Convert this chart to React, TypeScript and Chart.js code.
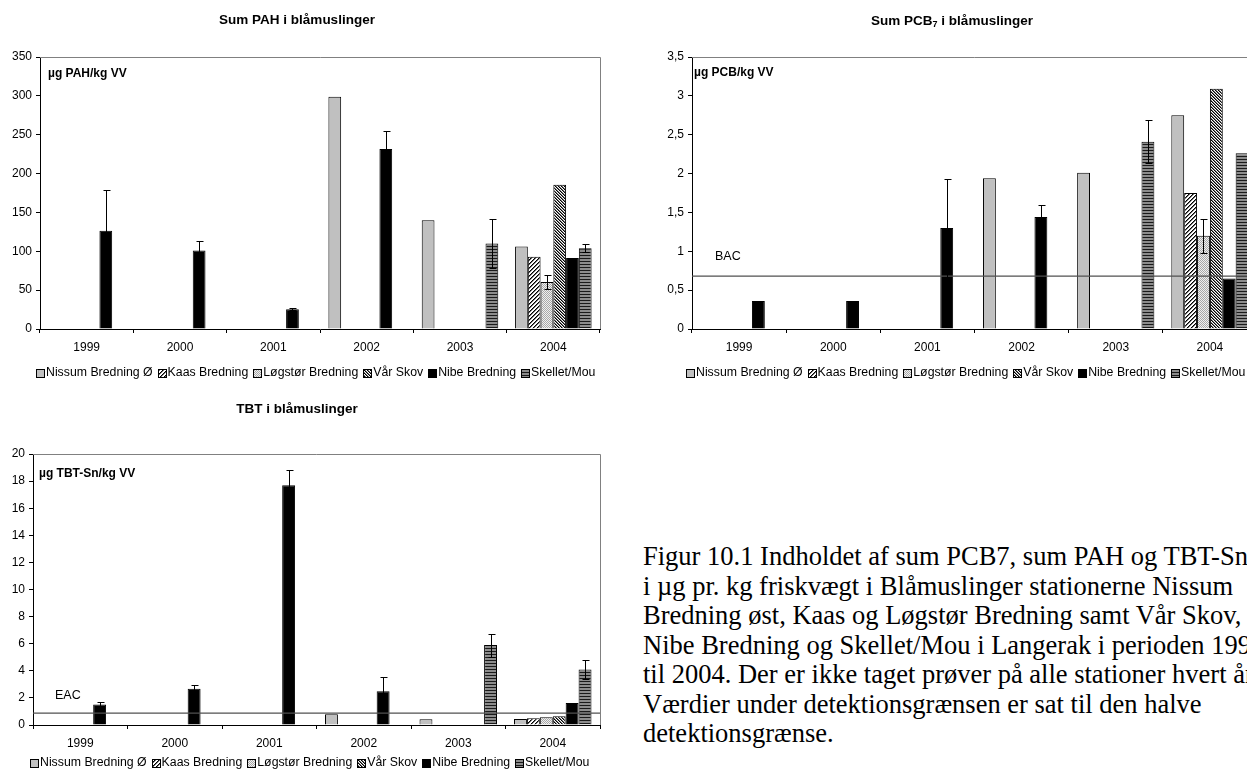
import React, { useEffect, useRef } from "react";
import { Chart, registerables } from "chart.js";

Chart.register(...registerables);

const FONT = "'Liberation Sans', Arial, sans-serif";

const years = ["1999", "2000", "2001", "2002", "2003", "2004"];
const stations = ["Nissum Bredning Ø", "Kaas Bredning", "Løgstør Bredning", "Vår Skov", "Nibe Bredning", "Skellet/Mou"];

// Sum PAH i blåmuslinger (µg PAH/kg VV)
const pahNissum = [null, null, null, 299, 140, 106];
const pahKaas = [null, null, null, null, null, 93];
const pahLogstor = [null, null, null, null, null, 60.5];
const pahVarSkov = [null, null, null, null, null, 185.5];
const pahNibe = [126.5, 101, 25.5, 231.5, null, 91.5];
const pahSkellet = [null, null, null, null, 110, 104];
const pahErrLogstor = [null, null, null, null, null, 8.5];
const pahErrNibe = [53, 12, 1.5, 23.5, null, null];
const pahErrSkellet = [null, null, null, null, 31.5, 5];
const pahYMax = 350;
const pahYStep = 50;

// Sum PCB7 i blåmuslinger (µg PCB/kg VV)
const pcbNissum = [null, null, null, 1.94, 2.01, 2.75];
const pcbKaas = [null, null, null, null, null, 1.75];
const pcbLogstor = [null, null, null, null, null, 1.2];
const pcbVarSkov = [null, null, null, null, null, 3.09];
const pcbNibe = [0.36, 0.36, 1.3, 1.44, null, 0.65];
const pcbSkellet = [null, null, null, null, 2.41, 2.26];
const pcbErrLogstor = [null, null, null, null, null, 0.22];
const pcbErrNibe = [null, null, 0.63, 0.16, null, null];
const pcbErrSkellet = [null, null, null, null, 0.28, null];
const pcbBAC = 0.68;
const pcbYMax = 3.5;
const pcbYStep = 0.5;

// TBT i blåmuslinger (µg TBT-Sn/kg VV)
const tbtNissum = [null, null, null, 0.8, 0.43, 0.45];
const tbtKaas = [null, null, null, null, null, 0.5];
const tbtLogstor = [null, null, null, null, null, 0.58];
const tbtVarSkov = [null, null, null, null, null, 0.65];
const tbtNibe = [1.52, 2.67, 17.7, 2.49, null, 1.62];
const tbtSkellet = [null, null, null, null, 5.9, 4.1];
const tbtErrNibe = [0.17, 0.27, 1.15, 1.03, null, null];
const tbtErrSkellet = [null, null, null, null, 0.85, 0.7];
const tbtEAC = 0.87;
const tbtYMax = 20;
const tbtYStep = 2;

const captionLines = [
  "Figur 10.1 Indholdet af sum PCB7, sum PAH og TBT-Sn",
  "i µg pr. kg friskvægt i Blåmuslinger stationerne Nissum",
  "Bredning øst, Kaas og Løgstør Bredning samt Vår Skov,",
  "Nibe Bredning og Skellet/Mou i Langerak i perioden 1999",
  "til 2004. Der er ikke taget prøver på alle stationer hvert år.",
  "Værdier under detektionsgrænsen er sat til den halve",
  "detektionsgrænse.",
];

type Num = number | null;
type Spec = {
  id: string;
  left: number;
  top: number;
  width: number;
  height: number;
  area: { left: number; right: number; top: number; bottom: number };
  series: Num[][];
  errors: (Num[] | null)[];
  yMax: number;
  yStep: number;
  comma: boolean;
  title: [string, string, string];
  titleX: number;
  titleY: number;
  unit: string;
  unitX: number;
  unitY: number;
  ref?: { value: number; label: string; x: number; y: number };
  legendCx: number;
  legendY: number;
};

const specs: Spec[] = [
  {
    id: "pah",
    left: 0,
    top: 0,
    width: 630,
    height: 395,
    area: { left: 40, right: 600, top: 57, bottom: 329 },
    series: [pahNissum, pahKaas, pahLogstor, pahVarSkov, pahNibe, pahSkellet],
    errors: [null, null, pahErrLogstor, null, pahErrNibe, pahErrSkellet],
    yMax: pahYMax,
    yStep: pahYStep,
    comma: false,
    title: ["Sum PAH i blåmuslinger", "", ""],
    titleX: 297,
    titleY: 20,
    unit: "µg PAH/kg VV",
    unitX: 48,
    unitY: 74,
    legendCx: 316,
    legendY: 373,
  },
  {
    id: "pcb",
    left: 630,
    top: 0,
    width: 640,
    height: 395,
    area: { left: 62, right: 627, top: 57, bottom: 329 },
    series: [pcbNissum, pcbKaas, pcbLogstor, pcbVarSkov, pcbNibe, pcbSkellet],
    errors: [null, null, pcbErrLogstor, null, pcbErrNibe, pcbErrSkellet],
    yMax: pcbYMax,
    yStep: pcbYStep,
    comma: true,
    title: ["Sum PCB", "7", " i blåmuslinger"],
    titleX: 322,
    titleY: 21,
    unit: "µg PCB/kg VV",
    unitX: 64,
    unitY: 73,
    ref: { value: pcbBAC, label: "BAC", x: 85, y: 257 },
    legendCx: 336,
    legendY: 373,
  },
  {
    id: "tbt",
    left: 0,
    top: 390,
    width: 630,
    height: 379,
    area: { left: 33, right: 600, top: 64, bottom: 335 },
    series: [tbtNissum, tbtKaas, tbtLogstor, tbtVarSkov, tbtNibe, tbtSkellet],
    errors: [null, null, null, null, tbtErrNibe, tbtErrSkellet],
    yMax: tbtYMax,
    yStep: tbtYStep,
    comma: false,
    title: ["TBT i blåmuslinger", "", ""],
    titleX: 297,
    titleY: 19,
    unit: "µg TBT-Sn/kg VV",
    unitX: 39,
    unitY: 84,
    ref: { value: tbtEAC, label: "EAC", x: 55, y: 306 },
    legendCx: 310,
    legendY: 373,
  },
];

function makeTile(w: number, h: number, fn: (x: number, y: number) => string) {
  const c = document.createElement("canvas");
  c.width = w;
  c.height = h;
  const g = c.getContext("2d")!;
  for (let y = 0; y < h; y++) {
    for (let x = 0; x < w; x++) {
      g.fillStyle = fn(x, y);
      g.fillRect(x, y, 1, 1);
    }
  }
  return c;
}

function makeFills(ctx: CanvasRenderingContext2D): (string | CanvasPattern)[] {
  const kaas = ctx.createPattern(
    makeTile(4, 4, (x, y) => {
      const k = (x + y) % 4;
      return k === 0 ? "#000" : k === 1 ? "#6e6e6e" : "#fff";
    }),
    "repeat"
  )!;
  const logstor = ctx.createPattern(
    makeTile(2, 2, (x, y) => ((x + y) % 2 === 0 ? "#a8a8a8" : "#efefef")),
    "repeat"
  )!;
  const varskov = ctx.createPattern(
    makeTile(3, 3, (x, y) => {
      const k = (((x - y) % 3) + 3) % 3;
      return k === 0 ? "#000" : k === 1 ? "#7a7a7a" : "#fff";
    }),
    "repeat"
  )!;
  const skellet = ctx.createPattern(
    makeTile(1, 3, (_x, y) => (y === 0 ? "#1a1a1a" : "#8c8c8c")),
    "repeat"
  )!;
  return ["#c0c0c0", kaas, logstor, varskov, "#000000", skellet];
}

function ChartCanvas({ spec }: { spec: Spec }) {
  const ref = useRef<HTMLCanvasElement | null>(null);

  useEffect(() => {
    const canvas = ref.current!;
    const ctx = canvas.getContext("2d")!;
    const fills = makeFills(ctx);
    const a = spec.area;
    const xAxisH = 32;

    const framePlugin = {
      id: "frame_" + spec.id,
      beforeDatasetsDraw(chart: any) {
        const c = chart.ctx;
        const ca = chart.chartArea;
        c.save();
        c.strokeStyle = "#808080";
        c.lineWidth = 1;
        c.beginPath();
        c.moveTo(ca.left, Math.round(ca.top) + 0.5);
        c.lineTo(Math.round(ca.right) + 0.5, Math.round(ca.top) + 0.5);
        c.lineTo(Math.round(ca.right) + 0.5, ca.bottom);
        c.stroke();
        c.restore();
      },
    };

    const overlayPlugin = {
      id: "overlay_" + spec.id,
      afterDatasetsDraw(chart: any) {
        const c = chart.ctx;
        const ys = chart.scales.y;
        const ca = chart.chartArea;
        c.save();
        if (spec.ref) {
          const py = ys.getPixelForValue(spec.ref.value);
          c.strokeStyle = "#505050";
          c.lineWidth = 1.3;
          c.beginPath();
          c.moveTo(ca.left, py);
          c.lineTo(ca.right, py);
          c.stroke();
        }
        c.strokeStyle = "#000";
        c.lineWidth = 1;
        spec.errors.forEach((errs, di) => {
          if (!errs) return;
          const meta = chart.getDatasetMeta(di);
          const vals = spec.series[di];
          meta.data.forEach((bar: any, i: number) => {
            const v = vals[i];
            const e = errs[i];
            if (v == null || e == null) return;
            const x = Math.round(bar.x) + 0.5;
            const yt = Math.round(ys.getPixelForValue(v + e)) + 0.5;
            const yb = Math.round(ys.getPixelForValue(Math.max(0, v - e))) + 0.5;
            c.beginPath();
            c.moveTo(x, yb);
            c.lineTo(x, yt);
            c.moveTo(x - 3, yt);
            c.lineTo(x + 4, yt);
            c.moveTo(x - 3, yb);
            c.lineTo(x + 4, yb);
            c.stroke();
          });
        });
        c.restore();
      },
    };

    const textPlugin = {
      id: "text_" + spec.id,
      afterDraw(chart: any) {
        const c = chart.ctx;
        c.save();
        c.fillStyle = "#000";
        c.textBaseline = "middle";
        c.textAlign = "left";
        const [pre, sub, post] = spec.title;
        const tf = `bold 13.5px ${FONT}`;
        const sf = `bold 9px ${FONT}`;
        c.font = tf;
        const w1 = c.measureText(pre).width;
        const w3 = c.measureText(post).width;
        c.font = sf;
        const w2 = sub ? c.measureText(sub).width : 0;
        let tx = spec.titleX - (w1 + w2 + w3) / 2;
        c.font = tf;
        c.fillText(pre, tx, spec.titleY);
        tx += w1;
        if (sub) {
          c.font = sf;
          c.fillText(sub, tx, spec.titleY + 4);
          tx += w2;
        }
        if (post) {
          c.font = tf;
          c.fillText(post, tx, spec.titleY);
        }
        c.font = `bold 12px ${FONT}`;
        c.fillText(spec.unit, spec.unitX, spec.unitY);
        if (spec.ref) {
          c.font = `12.5px ${FONT}`;
          c.fillText(spec.ref.label, spec.ref.x, spec.ref.y);
        }
        c.font = `12.3px ${FONT}`;
        const box = 8;
        const gap = 2;
        const spacing = 5;
        const widths = stations.map((s) => c.measureText(s).width);
        const total = widths.reduce((s, w) => s + box + gap + w, 0) + spacing * (stations.length - 1);
        let lx = Math.round(spec.legendCx - total / 2);
        const ly = spec.legendY;
        stations.forEach((s, i) => {
          const bx = Math.round(lx) + 0.5;
          const by = Math.round(ly - box / 2) + 0.5;
          c.fillStyle = fills[i];
          c.fillRect(bx, by, box, box);
          c.strokeStyle = "#000";
          c.lineWidth = 1;
          c.strokeRect(bx, by, box, box);
          c.fillStyle = "#000";
          c.fillText(s, lx + box + gap, ly);
          lx += box + gap + widths[i] + spacing;
        });
        c.restore();
      },
    };

    const tickFont = { family: FONT, size: 12 };

    const chart = new Chart(ctx, {
      type: "bar",
      data: {
        labels: years,
        datasets: spec.series.map((d, i) => ({
          label: stations[i],
          data: d as any,
          backgroundColor: fills[i] as any,
          borderColor: "#000",
          borderWidth: 1,
          borderSkipped: "bottom" as any,
          categoryPercentage: 0.82,
          barPercentage: 1,
        })),
      },
      options: {
        responsive: false,
        maintainAspectRatio: false,
        animation: false,
        events: [],
        layout: {
          padding: {
            left: 0,
            top: a.top,
            right: spec.width - a.right,
            bottom: spec.height - a.bottom - xAxisH,
          },
        },
        plugins: {
          legend: { display: false },
          title: { display: false },
          tooltip: { enabled: false },
        },
        scales: {
          x: {
            type: "category",
            offset: true,
            grid: {
              offset: true,
              drawOnChartArea: false,
              drawTicks: true,
              tickLength: 4,
              tickColor: "#000",
              color: "#000",
            },
            border: { display: true, color: "#000", width: 1 },
            ticks: { color: "#000", font: tickFont, padding: 7, maxRotation: 0, autoSkip: false },
            afterFit: (s: any) => {
              s.height = xAxisH;
            },
          },
          y: {
            min: 0,
            max: spec.yMax,
            grid: {
              drawOnChartArea: false,
              drawTicks: true,
              tickLength: 4,
              tickColor: "#000",
              color: "#000",
            },
            border: { display: true, color: "#000", width: 1 },
            ticks: {
              stepSize: spec.yStep,
              color: "#000",
              font: tickFont,
              padding: 4,
              callback: (v: any) => (spec.comma ? String(v).replace(".", ",") : String(v)),
            },
            afterFit: (s: any) => {
              s.width = a.left;
            },
          },
        },
      } as any,
      plugins: [framePlugin, overlayPlugin, textPlugin],
    });
    return () => chart.destroy();
  }, [spec]);

  return (
    <canvas
      ref={ref}
      width={spec.width}
      height={spec.height}
      style={{ position: "absolute", left: spec.left, top: spec.top, width: spec.width, height: spec.height }}
    />
  );
}

export default function App() {
  return (
    <div
      style={{
        position: "fixed",
        left: 0,
        top: 0,
        width: 1247,
        height: 769,
        overflow: "hidden",
        background: "#fff",
      }}
    >
      {specs.map((s) => (
        <ChartCanvas key={s.id} spec={s} />
      ))}
      <div
        style={{
          position: "absolute",
          left: 643,
          top: 542,
          fontFamily: "'Liberation Serif', 'Times New Roman', serif",
          fontSize: 26.5,
          lineHeight: "29.5px",
          whiteSpace: "nowrap",
          color: "#000",
        }}
      >
        {captionLines.map((l, i) => (
          <div key={i}>{l}</div>
        ))}
      </div>
    </div>
  );
}
